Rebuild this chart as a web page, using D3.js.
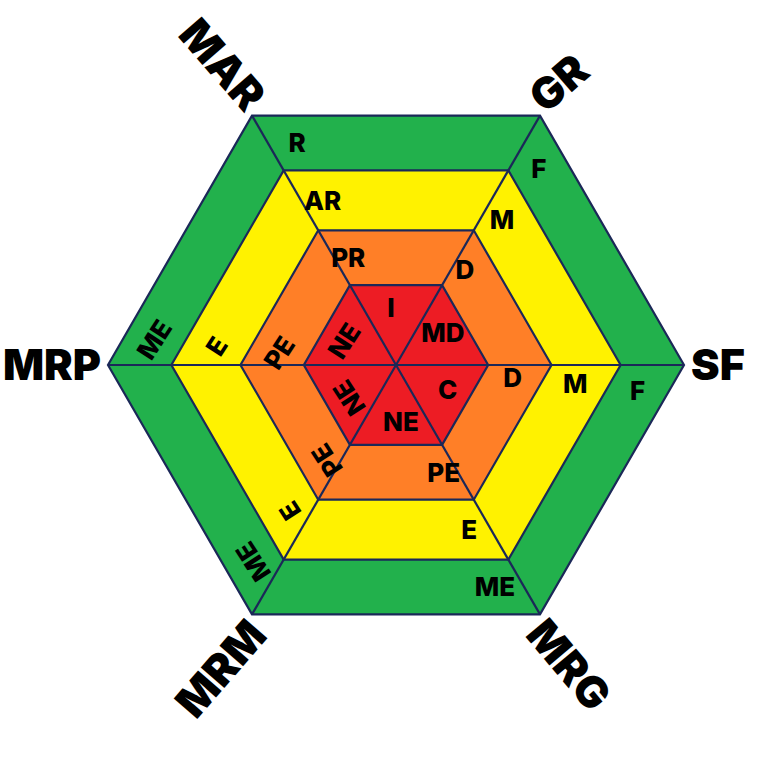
<!DOCTYPE html>
<html>
<head>
<meta charset="utf-8">
<script src="https://cdn.jsdelivr.net/npm/d3@7"></script>
<style>
  html, body { margin: 0; padding: 0; background: #ffffff; }
  svg { display: block; }
</style>
</head>
<body>
<svg id="chart" width="759" height="759"></svg>
<script>
// ---- DATA ----
// Axes, counter-clockwise starting at the right (0°, 60°, 120°, ...)
const axes = ["SF", "GR", "MAR", "MRP", "MRM", "MRG"];
// Rings from inside to outside, with their outer bound (% of axis length)
const levels = ["Red", "Orange", "Yellow", "Green"];
const levelValues = [32, 54, 78, 100];
// Section labels per ring; section i lies between axis i and axis i+1
const redLabels    = ["MD", "I",  "NE", "NE", "NE", "C"];
const orangeLabels = ["D",  "PR", "PE", "PE", "PE", "D"];
const yellowLabels = ["M",  "AR", "E",  "E",  "E",  "M"];
const greenLabels  = ["F",  "R",  "ME", "ME", "ME", "F"];

// ---- STYLE ----
const ringColors = { Red: "#ED1C24", Orange: "#FF7F27", Yellow: "#FFF200", Green: "#22B14C" };
const lineColor = "#1b2858";
const cx = 396, cy = 365;
const rScale = d3.scaleLinear().domain([0, 100]).range([0, 288]);
const angleScale = d3.scaleLinear().domain([0, axes.length]).range([0, 360]);
const axisRot = { SF: 0, GR: -41, MAR: 49, MRP: 0, MRM: -49, MRG: 50 };
const sectionRot = [0, 0, -57, -123, 0, 0];
const fontFam = "Inter, 'Open Sans', sans-serif";

const svg = d3.select("#chart");
const rad = d => d * Math.PI / 180;
const pt = (r, a) => [cx + r * Math.cos(rad(a)), cy - r * Math.sin(rad(a))];
const hexPts = r => axes.map((_, i) => pt(r, angleScale(i)));

// rings, outer first
const ringData = levels.map((name, i) => ({ name, value: levelValues[i] })).reverse();
svg.append("g").selectAll("polygon").data(ringData).join("polygon")
  .attr("points", d => hexPts(rScale(d.value)).map(p => p.join(",")).join(" "))
  .attr("fill", d => ringColors[d.name])
  .attr("stroke", lineColor)
  .attr("stroke-width", 2.2)
  .attr("stroke-linejoin", "miter");

// axis lines
const rMax = rScale(d3.max(levelValues));
svg.append("g").selectAll("line").data(axes).join("line")
  .attr("x1", cx).attr("y1", cy)
  .attr("x2", (d, i) => pt(rMax, angleScale(i))[0])
  .attr("y2", (d, i) => pt(rMax, angleScale(i))[1])
  .attr("stroke", lineColor).attr("stroke-width", 2.2);

// section labels
const ringLabels = [redLabels, orangeLabels, yellowLabels, greenLabels];
const labelData = [];
ringLabels.forEach((labs, ri) => {
  const rOut = rScale(levelValues[ri]);
  const rIn = ri === 0 ? 0 : rScale(levelValues[ri - 1]);
  labs.forEach((t, si) => {
    const center = angleScale(si) + 30;
    let a, r;
    if (ri === 0) {
      a = center + 5;
      r = rOut * 0.62;
    } else {
      const off = 24;
      a = center + off;
      r = (rIn + rOut) / 2 * Math.cos(rad(30)) / Math.cos(rad(off));
    }
    const p = pt(r, a);
    labelData.push({ t, x: p[0], y: p[1], rot: sectionRot[si] });
  });
});
svg.append("g").selectAll("text").data(labelData).join("text")
  .attr("transform", d => `translate(${d.x},${d.y}) rotate(${d.rot})`)
  .attr("text-anchor", "middle")
  .attr("dy", "0.36em")
  .attr("font-family", fontFam)
  .attr("font-weight", 800)
  .attr("font-size", 26)
  .attr("fill", "#000")
  .text(d => d.t);

// axis labels
const axG = svg.append("g");
axes.forEach((name, i) => {
  const t = axG.append("text")
    .attr("text-anchor", "middle")
    .attr("dy", "0.36em")
    .attr("font-family", fontFam)
    .attr("font-weight", 900)
    .attr("font-size", 43)
    .attr("fill", "#000")
    .text(name);
  const w = t.node().getComputedTextLength();
  const p = pt(rMax + 7 + w / 2, angleScale(i));
  t.attr("transform", `translate(${p[0]},${p[1]}) rotate(${axisRot[name]})`);
});
</script>
</body>
</html>
